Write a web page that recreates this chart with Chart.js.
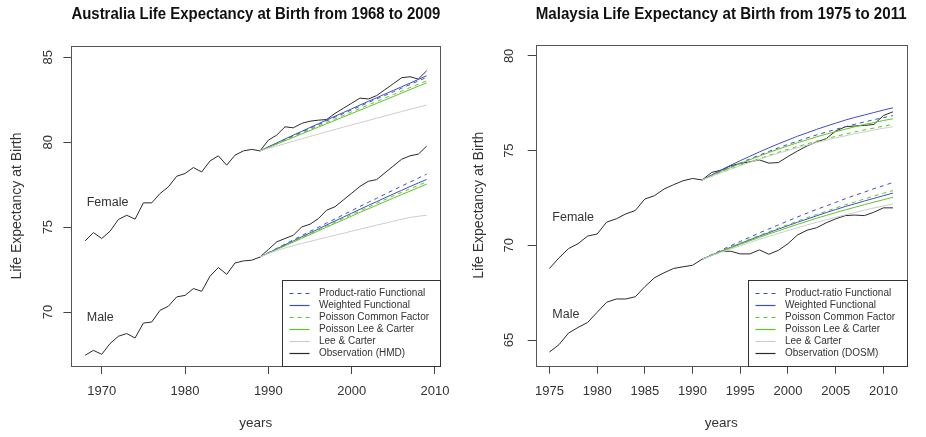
<!DOCTYPE html>
<html><head><meta charset="utf-8">
<script src="https://cdn.jsdelivr.net/npm/chart.js@4/dist/chart.umd.min.js"></script>
<style>
html,body{margin:0;padding:0;background:#fff;width:926px;height:437px;overflow:hidden}
canvas{position:absolute;top:0}
</style></head><body>
<canvas id="au" width="463" height="437" style="left:0"></canvas>
<canvas id="my" width="463" height="437" style="left:463px"></canvas>
<script>
// ---------------- Australia (HMD) ----------------
const AU_YEARS = [1968,1969,1970,1971,1972,1973,1974,1975,1976,1977,1978,1979,1980,1981,1982,1983,1984,1985,1986,1987,1988,1989,1990,1991,1992,1993,1994,1995,1996,1997,1998,1999,2000,2001,2002,2003,2004,2005,2006,2007,2008,2009];
const AU_FC_YEARS = [1989,1990,1991,1992,1993,1994,1995,1996,1997,1998,1999,2000,2001,2002,2003,2004,2005,2006,2007,2008,2009];
const AU_X_TICKS = [1970,1980,1990,2000,2010];
const AU_Y_TICKS = [70,75,80,85];

const AU_F_OBS = [74.19,74.68,74.33,74.76,75.45,75.70,75.47,76.43,76.43,76.98,77.37,78.00,78.16,78.51,78.25,78.90,79.20,78.65,79.24,79.49,79.58,79.49,80.12,80.42,80.91,80.85,81.11,81.24,81.30,81.34,81.70,82.00,82.30,82.60,82.55,82.75,83.10,83.45,83.80,83.86,83.72,84.21];
const AU_M_OBS = [67.45,67.74,67.51,68.14,68.57,68.73,68.47,69.35,69.41,70.10,70.34,70.89,70.98,71.38,71.22,72.11,72.62,72.22,72.89,73.01,73.05,73.24,73.68,74.13,74.33,74.52,75.01,75.17,75.50,76.00,76.20,76.60,77.00,77.40,77.70,77.80,78.20,78.60,79.00,79.20,79.30,79.77];

const AU_F_PR  = [79.49,79.72,79.94,80.16,80.38,80.60,80.82,81.04,81.26,81.48,81.69,81.91,82.12,82.34,82.55,82.76,82.97,83.18,83.40,83.61,83.82];
const AU_F_WF  = [79.49,79.73,79.96,80.19,80.42,80.64,80.87,81.09,81.31,81.53,81.75,81.97,82.19,82.41,82.62,82.84,83.05,83.27,83.48,83.70,83.92];
const AU_F_PCF = [79.49,79.70,79.91,80.12,80.33,80.54,80.75,80.96,81.16,81.37,81.58,81.79,81.99,82.20,82.40,82.61,82.81,83.02,83.22,83.42,83.62];
const AU_F_PLC = [79.49,79.69,79.89,80.09,80.29,80.49,80.69,80.89,81.09,81.29,81.49,81.69,81.89,82.09,82.29,82.49,82.69,82.90,83.10,83.30,83.50];
const AU_F_LC  = [79.49,79.64,79.78,79.92,80.06,80.20,80.34,80.48,80.62,80.75,80.89,81.02,81.15,81.28,81.42,81.55,81.68,81.81,81.94,82.06,82.19];

const AU_M_PR  = [73.24,73.50,73.75,74.00,74.25,74.50,74.75,74.99,75.24,75.48,75.73,75.97,76.22,76.46,76.70,76.94,77.18,77.42,77.65,77.89,78.12];
const AU_M_WF  = [73.24,73.48,73.72,73.96,74.19,74.43,74.66,74.89,75.13,75.36,75.59,75.82,76.05,76.28,76.50,76.73,76.95,77.17,77.39,77.60,77.81];
const AU_M_PCF = [73.24,73.47,73.70,73.93,74.16,74.39,74.61,74.84,75.06,75.29,75.51,75.74,75.96,76.18,76.40,76.62,76.84,77.05,77.26,77.46,77.67];
const AU_M_PLC = [73.24,73.46,73.68,73.90,74.12,74.34,74.56,74.78,75.00,75.22,75.43,75.65,75.87,76.08,76.29,76.50,76.71,76.92,77.12,77.33,77.53];
const AU_M_LC  = [73.24,73.45,73.62,73.77,73.91,74.04,74.16,74.28,74.40,74.52,74.64,74.76,74.88,75.00,75.12,75.23,75.35,75.46,75.57,75.64,75.70];

// ---------------- Malaysia (DOSM) ----------------
const MY_YEARS = [1975,1976,1977,1978,1979,1980,1981,1982,1983,1984,1985,1986,1987,1988,1989,1990,1991,1992,1993,1994,1995,1996,1997,1998,1999,2000,2001,2002,2003,2004,2005,2006,2007,2008,2009,2010,2011];
const MY_FC_YEARS = [1991,1992,1993,1994,1995,1996,1997,1998,1999,2000,2001,2002,2003,2004,2005,2006,2007,2008,2009,2010,2011];
const MY_X_TICKS = [1975,1980,1985,1990,1995,2000,2005,2010];
const MY_Y_TICKS = [65,70,75,80];

const MY_F_OBS = [68.78,69.34,69.83,70.09,70.49,70.60,71.23,71.40,71.66,71.84,72.45,72.62,72.97,73.20,73.41,73.53,73.45,73.85,73.97,74.20,74.32,74.41,74.51,74.34,74.37,74.69,74.98,75.25,75.46,75.63,76.03,76.26,76.30,76.33,76.38,76.85,77.05];
const MY_M_OBS = [64.37,64.76,65.37,65.67,65.93,66.47,67.00,67.17,67.17,67.29,67.82,68.29,68.55,68.78,68.87,68.95,69.27,69.48,69.69,69.69,69.55,69.55,69.76,69.53,69.74,70.09,70.55,70.80,70.93,71.19,71.40,71.57,71.60,71.57,71.75,71.98,71.98];

const MY_F_PR  = [73.45,73.69,73.92,74.14,74.35,74.56,74.76,74.96,75.15,75.33,75.50,75.67,75.83,75.98,76.12,76.26,76.39,76.51,76.63,76.74,76.85];
const MY_F_WF  = [73.45,73.72,73.98,74.23,74.47,74.70,74.93,75.15,75.36,75.56,75.76,75.94,76.12,76.29,76.45,76.61,76.75,76.88,77.01,77.14,77.26];
const MY_F_PCF = [73.45,73.65,73.85,74.04,74.23,74.41,74.58,74.75,74.91,75.07,75.22,75.36,75.50,75.63,75.75,75.87,75.99,76.09,76.19,76.29,76.38];
const MY_F_PLC = [73.45,73.68,73.90,74.11,74.32,74.52,74.71,74.90,75.08,75.25,75.42,75.57,75.73,75.87,76.00,76.13,76.26,76.38,76.48,76.59,76.68];
const MY_F_LC  = [73.45,73.65,73.84,74.02,74.20,74.38,74.54,74.71,74.86,75.01,75.16,75.29,75.43,75.55,75.67,75.78,75.89,75.99,76.09,76.18,76.26];

const MY_M_PR  = [69.27,69.51,69.75,69.98,70.21,70.43,70.66,70.87,71.08,71.29,71.50,71.70,71.90,72.08,72.27,72.46,72.64,72.81,72.99,73.15,73.32];
const MY_M_WF  = [69.27,69.48,69.69,69.90,70.10,70.29,70.49,70.67,70.86,71.04,71.22,71.39,71.56,71.73,71.89,72.05,72.19,72.34,72.48,72.62,72.76];
const MY_M_PCF = [69.27,69.49,69.70,69.92,70.12,70.33,70.53,70.72,70.91,71.09,71.28,71.46,71.63,71.80,71.97,72.14,72.29,72.45,72.60,72.75,72.89];
const MY_M_PLC = [69.27,69.47,69.67,69.86,70.05,70.24,70.42,70.60,70.77,70.94,71.11,71.27,71.43,71.58,71.73,71.87,72.01,72.15,72.28,72.41,72.54];
const MY_M_LC  = [69.27,69.46,69.64,69.81,69.98,70.15,70.32,70.48,70.63,70.78,70.93,71.08,71.22,71.35,71.48,71.61,71.73,71.86,71.97,72.08,72.19];

const METHOD_LABELS = ['Product-ratio Functional','Weighted Functional','Poisson Common Factor','Poisson Lee & Carter','Lee & Carter'];

// ---------------- styles ----------------
const FONT = "'Liberation Sans', Arial, Helvetica, sans-serif";
const BLUE = '#3f4cc8', GREEN = '#5cc622', LGRAY = '#cdcdcd', BLACK = '#2a2a2a';
const METHOD_STYLES = [
  {color: BLUE,  dash: [4,4]},
  {color: BLUE,  dash: []},
  {color: GREEN, dash: [4,4]},
  {color: GREEN, dash: []},
  {color: LGRAY, dash: []}
];
const OBS_STYLE = {color: BLACK, dash: []};

function pts(xs, ys) { return xs.map((x, i) => ({x: x, y: ys[i]})); }
function ds(label, xs, ys, st) {
  return {label: label, data: pts(xs, ys), borderColor: st.color, borderDash: st.dash,
          borderWidth: 1, pointRadius: 0, fill: false, tension: 0, backgroundColor: st.color};
}
function buildDatasets(fcYears, fF, fM, obsYears, obsF, obsM, obsLabel) {
  const out = [];
  for (let k = METHOD_LABELS.length - 1; k >= 0; k--) {
    out.push(ds(METHOD_LABELS[k], fcYears, fF[k], METHOD_STYLES[k]));
    out.push(ds(METHOD_LABELS[k], fcYears, fM[k], METHOD_STYLES[k]));
  }
  out.push(ds(obsLabel, obsYears, obsF, OBS_STYLE));
  out.push(ds(obsLabel, obsYears, obsM, OBS_STYLE));
  return out;
}

const framePlugin = {
  id: 'rframe',
  afterDraw(chart, args, o) {
    const ctx = chart.ctx, a = chart.chartArea, xs = chart.scales.x, ys = chart.scales.y;
    ctx.save();
    ctx.strokeStyle = '#555'; ctx.lineWidth = 1; ctx.setLineDash([]);
    ctx.strokeRect(Math.round(a.left) + 0.5, Math.round(a.top) + 0.5,
                   Math.round(a.right) - Math.round(a.left), Math.round(a.bottom) - Math.round(a.top));
    ctx.fillStyle = '#333'; ctx.font = '12.5px ' + FONT; ctx.textAlign = 'left'; ctx.textBaseline = 'middle';
    o.notes.forEach(n => ctx.fillText(n.text, xs.getPixelForValue(n.x), ys.getPixelForValue(n.y)));
    const w = o.legendW, h = o.legendH;
    const L = Math.round(a.right - w), T = Math.round(a.bottom - h);
    ctx.fillStyle = '#fff';
    ctx.fillRect(L, T, Math.round(a.right) - L, Math.round(a.bottom) - T);
    ctx.strokeStyle = '#333';
    ctx.strokeRect(L + 0.5, T + 0.5, Math.round(a.right) - L, Math.round(a.bottom) - T);
    const entries = METHOD_LABELS.map((t, k) => ({text: t, st: METHOD_STYLES[k]}));
    entries.push({text: o.obsLabel, st: OBS_STYLE});
    ctx.font = '10px ' + FONT; ctx.textBaseline = 'middle';
    entries.forEach((e, i) => {
      const y = Math.round(T + o.firstY + i * o.step) + 0.5;
      ctx.save();
      ctx.strokeStyle = e.st.color; ctx.setLineDash(e.st.dash); ctx.lineWidth = 1.2;
      ctx.beginPath(); ctx.moveTo(L + 7.5, y); ctx.lineTo(L + 27.5, y); ctx.stroke();
      ctx.restore();
      ctx.fillStyle = '#333'; ctx.fillText(e.text, L + 37, y);
    });
    ctx.restore();
  }
};

function makeChart(id, c) {
  return new Chart(document.getElementById(id), {
    type: 'line',
    data: {datasets: c.datasets},
    options: {
      responsive: false, animation: false, devicePixelRatio: 1,
      layout: {padding: {left: 0, right: c.padRight, top: 0, bottom: 0}},
      plugins: {
        legend: {display: false}, tooltip: {enabled: false},
        title: {display: true, text: c.title, fullSize: false, color: '#111',
                font: {family: FONT, size: 16.4, weight: 'bold', lineHeight: 1.2},
                padding: {top: c.titleTop, bottom: c.titleBottom}},
        rframe: {notes: c.notes, obsLabel: c.obsLabel, legendW: 158.5, legendH: 86, firstY: 13.4, step: 12}
      },
      scales: {
        x: {
          type: 'linear', min: c.xMin, max: c.xMax,
          afterBuildTicks: s => { s.ticks = c.xTicks.map(v => ({value: v})); },
          afterFit: s => { s.height = 437 - c.bottom; },
          ticks: {autoSkip: false, maxRotation: 0, minRotation: 0, padding: 10, color: '#333',
                  font: {family: FONT, size: 13}, callback: v => String(v)},
          grid: {drawOnChartArea: false, drawTicks: true, tickLength: 8, color: '#444', lineWidth: 1},
          border: {display: false},
          title: {display: true, text: 'years', color: '#333', font: {family: FONT, size: 13.5},
                  padding: {top: 0, bottom: 5.5}}
        },
        y: {
          type: 'linear', min: c.yMin, max: c.yMax,
          afterBuildTicks: s => { s.ticks = c.yTicks.map(v => ({value: v})); },
          afterFit: s => { s.width = c.left; },
          ticks: {minRotation: 90, maxRotation: 90, crossAlign: 'center', padding: c.yTickPad, color: '#333',
                  font: {family: FONT, size: 13}, callback: v => String(v)},
          grid: {drawOnChartArea: false, drawTicks: true, tickLength: 8, color: '#444', lineWidth: 1},
          border: {display: false},
          title: {display: true, text: 'Life Expectancy at Birth', color: '#333', font: {family: FONT, size: 14},
                  padding: {top: c.yTitlePad, bottom: 0}}
        }
      }
    },
    plugins: [framePlugin]
  });
}

makeChart('au', {
  datasets: buildDatasets(AU_FC_YEARS,
    [AU_F_PR, AU_F_WF, AU_F_PCF, AU_F_PLC, AU_F_LC],
    [AU_M_PR, AU_M_WF, AU_M_PCF, AU_M_PLC, AU_M_LC],
    AU_YEARS, AU_F_OBS, AU_M_OBS, 'Observation (HMD)'),
  title: 'Australia Life Expectancy at Birth from 1968 to 2009',
  obsLabel: 'Observation (HMD)',
  notes: [{text: 'Female', x: 1968.2, y: 76.43}, {text: 'Male', x: 1968.2, y: 69.65}],
  xMin: 1966.36, xMax: 2010.64, yMin: 66.82, yMax: 85.67,
  xTicks: AU_X_TICKS, yTicks: AU_Y_TICKS,
  left: 71.4, padRight: 463 - 440.3, bottom: 366, titleTop: 4.2, titleBottom: 46 - 4.2 - 19.68,
  yTickPad: 8.2, yTitlePad: 8.6
});

makeChart('my', {
  datasets: buildDatasets(MY_FC_YEARS,
    [MY_F_PR, MY_F_WF, MY_F_PCF, MY_F_PLC, MY_F_LC],
    [MY_M_PR, MY_M_WF, MY_M_PCF, MY_M_PLC, MY_M_LC],
    MY_YEARS, MY_F_OBS, MY_M_OBS, 'Observation (DOSM)'),
  title: 'Malaysia Life Expectancy at Birth from 1975 to 2011',
  obsLabel: 'Observation (DOSM)',
  notes: [{text: 'Female', x: 1975.3, y: 71.49}, {text: 'Male', x: 1975.3, y: 66.36}],
  xMin: 1973.56, xMax: 2012.44, yMin: 63.65, yMax: 80.59,
  xTicks: MY_X_TICKS, yTicks: MY_Y_TICKS,
  left: 72.7, padRight: 463 - 443.7, bottom: 365.7, titleTop: 4.2, titleBottom: 44.7 - 4.2 - 19.68,
  yTickPad: 11.5, yTitlePad: 7.8
});
</script></body></html>
